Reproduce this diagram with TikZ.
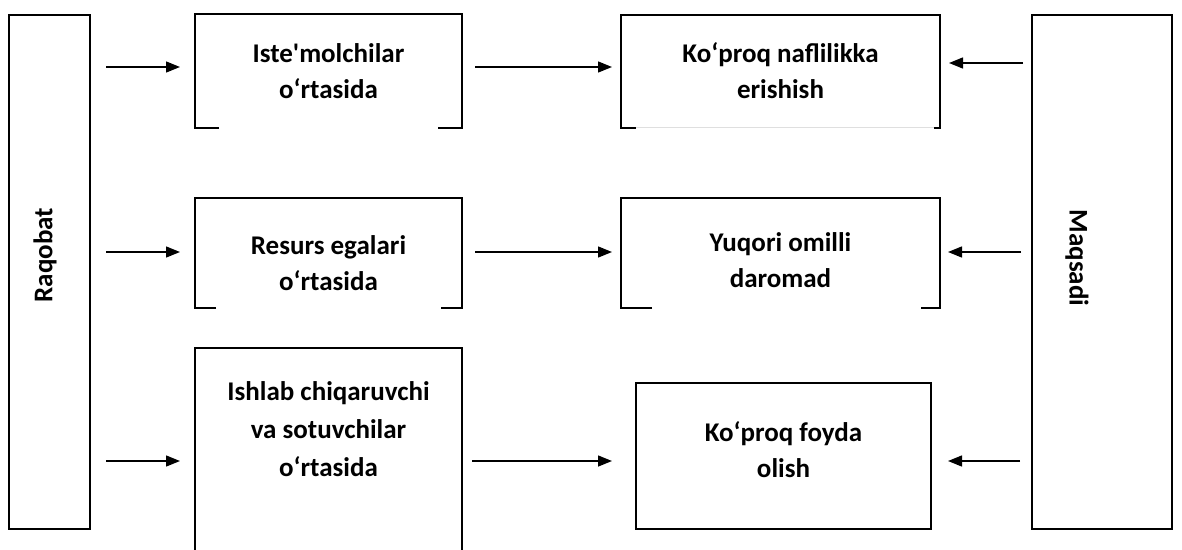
\documentclass[tikz,border=0pt]{standalone}
\usepackage{fontspec}
\newfontfamily\cf{Carlito}
\usetikzlibrary{arrows.meta}
\begin{document}
\begin{tikzpicture}[x=1pt,y=-1pt,line width=1.7pt,
  lbl/.style={font=\cf\bfseries\fontsize{27}{36}\selectfont,align=center,inner sep=0pt},
  side/.style={font=\cf\bfseries\fontsize{27}{30}\selectfont,inner sep=0pt},
  arr/.style={-{Triangle[length=14pt,width=11pt]},line width=1.4pt}]
\useasboundingbox (0,0) rectangle (1182,549);
% side boxes
\node[draw,minimum width=81pt,minimum height=514pt,inner sep=0pt] (raq) at (49.5,272) {};
\node[side,rotate=90] (raqt) at (45,255) {Raqobat};
\node[draw,minimum width=140pt,minimum height=514pt,inner sep=0pt] (maq) at (1102,272) {};
\node[side,rotate=-90] (maqt) at (1077,258) {Maqsadi};
% box frames (nodes without border)
\node[minimum width=265pt,minimum height=112pt,inner sep=0pt] (b1) at (328.5,71) {};
\node[minimum width=317pt,minimum height=111pt,inner sep=0pt] (b2) at (780.5,71.5) {};
\node[minimum width=265pt,minimum height=108pt,inner sep=0pt] (b3) at (328.5,253) {};
\node[minimum width=317pt,minimum height=108pt,inner sep=0pt] (b4) at (780.5,253) {};
\node[minimum width=265pt,minimum height=210pt,inner sep=0pt] (b5) at (328.5,454) {};
\node[draw,minimum width=295pt,minimum height=146pt,inner sep=0pt] (b6) at (783.5,456) {};
% open-bottom borders
\draw ([xshift=24pt]b1.south west) -| (b1.north west) -| (b1.south east) -- ++(-24pt,0);
\draw[gray!25,line width=1pt] ([xshift=15pt]b2.south west) -- ([xshift=-2pt]b2.south east);
\draw ([xshift=15pt]b2.south west) -| (b2.north west) -| (b2.south east) -- ++(-6pt,0);
\draw ([xshift=21pt]b3.south west) -| (b3.north west) -| (b3.south east) -- ++(-21pt,0);
\draw ([xshift=31pt]b4.south west) -| (b4.north west) -| (b4.south east) -- ++(-19pt,0);
\draw (b5.south west) -- (b5.north west) -- (b5.north east) -- (b5.south east);
% texts
\node[lbl] (t1) at (328.5,71) {Iste'molchilar\\o‘rtasida};
\node[lbl] (t2) at (780.5,71) {Ko‘proq naflilikka\\erishish};
\node[lbl] (t3) at (328.5,263) {Resurs egalari\\o‘rtasida};
\node[lbl] (t4) at (780.5,260) {Yuqori omilli\\daromad};
\node[lbl,font=\cf\bfseries\fontsize{27}{38}\selectfont] (t5) at (328.5,429) {Ishlab chiqaruvchi\\va sotuvchilar\\o‘rtasida};
\node[lbl] (t6) at (783.5,450) {Ko‘proq foyda\\olish};
% arrow end points
\foreach \r/\y in {1/67,2/252,3/461}{
  \coordinate (la\r) at (106,\y);
  \coordinate (lb\r) at (180,\y);
}
\coordinate (ma1) at (475,67);  \coordinate (mb1) at (612,67);
\coordinate (ma2) at (475,252); \coordinate (mb2) at (612,252);
\coordinate (ma3) at (472,461); \coordinate (mb3) at (612,461);
\coordinate (ra1) at (1023,63);  \coordinate (rb1) at (949,63);
\coordinate (ra2) at (1021,252); \coordinate (rb2) at (948,252);
\coordinate (ra3) at (1020,461); \coordinate (rb3) at (948,461);
\foreach \r in {1,2,3}{
  \draw[arr] (la\r) -- (lb\r);
  \draw[arr] (ma\r) -- (mb\r);
  \draw[arr] (ra\r) -- (rb\r);
}
\end{tikzpicture}
\end{document}
